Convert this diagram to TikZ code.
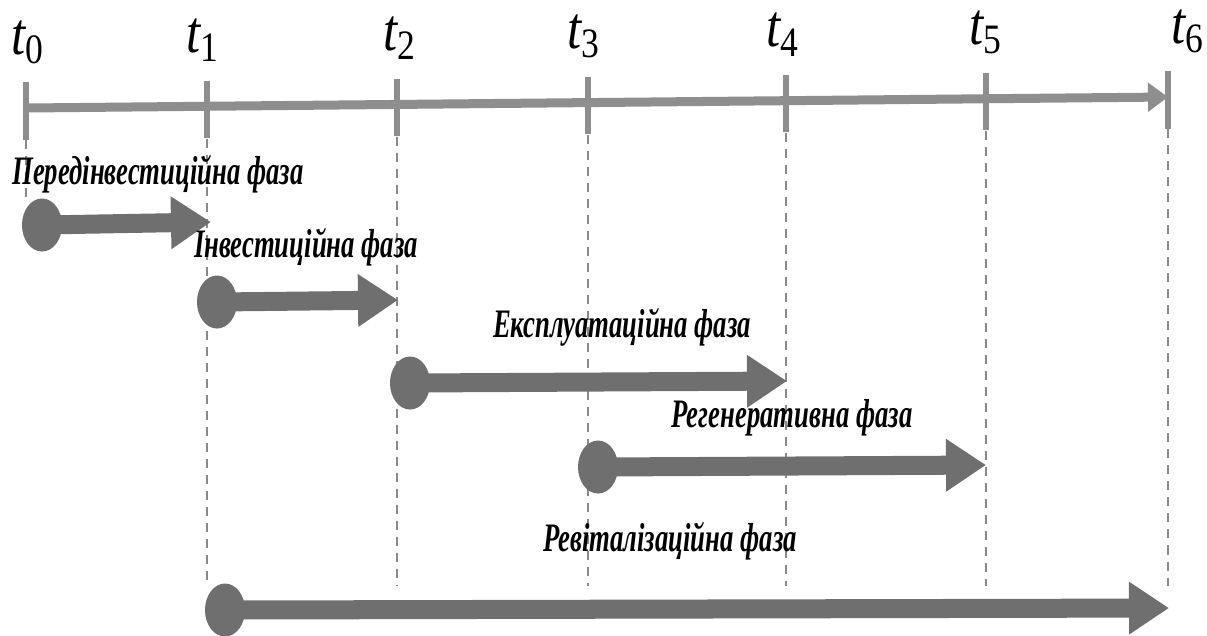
\documentclass[tikz,border=0pt]{standalone}
\usepackage{fontspec}
\setmainfont{Liberation Serif}
\usetikzlibrary{arrows.meta,shapes.geometric}
\definecolor{axisgray}{HTML}{8E8E8E}
\definecolor{phasegray}{HTML}{6F6F6F}
\definecolor{dashgray}{HTML}{8A8A8A}

\begin{document}
\begin{tikzpicture}[x=0.01cm,y=-0.01cm]
        \tikzstyle{tickmark} = [fill=axisgray,inner sep=0pt,minimum width=0.06cm,minimum height=0.57cm]
        \tikzstyle{tlabel} = [inner sep=0pt,xscale=0.85,font=\fontsize{17}{19}\selectfont\itshape]
        \tikzstyle{phase} = [inner sep=0pt,xscale=0.66,font=\fontsize{11.5}{13}\selectfont\bfseries\itshape]
        \tikzstyle{dot} = [ellipse,fill=phasegray,inner sep=0pt,minimum width=0.4cm,minimum height=0.53cm]
        \tikzstyle{bar} = [phasegray,line width=0.19cm,-{Triangle[length=0.4cm,width=0.5cm]}]
        \useasboundingbox (0,0) rectangle (1207,635);

        % time axis
        \draw[axisgray,line width=0.09cm,-{Triangle[length=0.2cm,width=0.28cm]}] (26,108) -- (1168,97);
        \foreach \n/\x/\y/\lx in {0/26/108/28, 1/207/106.3/203, 2/397/104.4/400, 3/588/102.6/584,
          4/786/100.7/783, 5/986/98.8/986, 6/1168/97/1188} {
          \node[tickmark] (t\n) at (\x,\y+3) {};
          \node[tlabel] (l\n) at (\lx,\y-66) {t\textsubscript{\upshape\n}};
        }
        \coordinate (d0) at (26,200);
        \foreach \n/\x in {1/207, 2/397, 3/588, 4/786, 5/986, 6/1168} {
          \coordinate (d\n) at (\x,586);
        }
        \foreach \n in {0,...,6} {
          \draw[dashgray,line width=0.015cm,dash pattern=on 0.09cm off 0.07cm] (t\n.south) -- (d\n);
        }

        % phases
        \foreach \l/\x/\y/\e/\ey in {a/42/225/211/222, b/217/302/398/300, c/410/383/787/381,
          d/598/467/986/465, e/225/610/1169/608} {
          \coordinate (\l e) at (\e,\ey);
          \draw[bar] (\x,\y) -- (\l e);
          \node[dot] (\l) at (\x,\y) {};
        }

        \node[phase] (pa) at (158,174) {Передінвестиційна фаза};
        \node[phase] (pb) at (306,247) {Інвестиційна фаза};
        \node[phase] (pc) at (622,327) {Експлуатаційна фаза};
        \node[phase] (pd) at (792,418) {Регенеративна фаза};
        \node[phase] (pe) at (670,541) {Ревіталізаційна фаза};
\end{tikzpicture}
\end{document}
